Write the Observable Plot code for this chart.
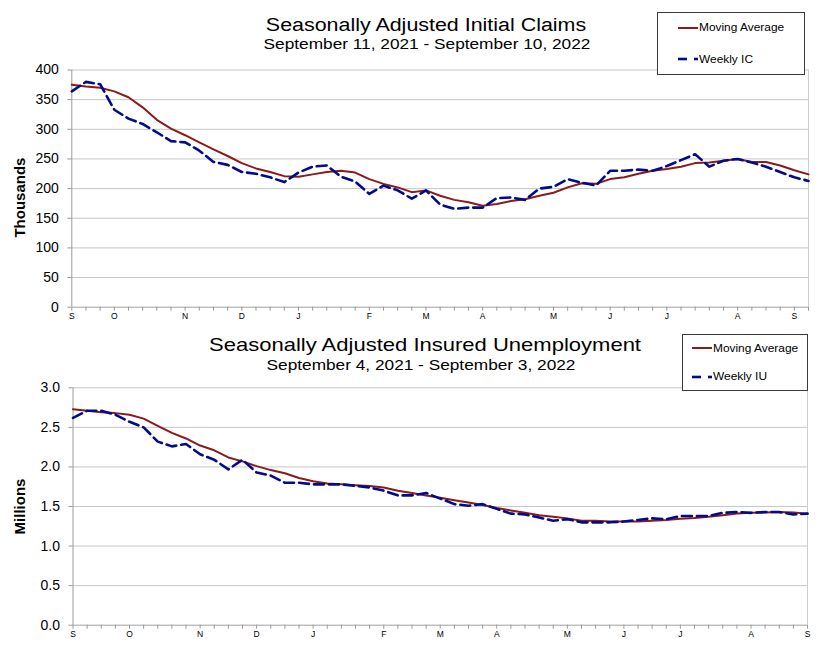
<!DOCTYPE html>
<html>
<head>
<meta charset="utf-8">
<script src="https://cdn.jsdelivr.net/npm/d3@7"></script>
<script src="https://cdn.jsdelivr.net/npm/@observablehq/plot@0.6"></script>
<style>
  body { margin: 0; background: #fff; font-family: Arial, "Liberation Sans", sans-serif; }
  #root { position: relative; width: 825px; height: 670px; overflow: hidden; background: #fff; }
  #root svg { position: absolute; left: 0; }
  .t { position: absolute; white-space: nowrap; line-height: 1; color: #000; }
  .ctr { transform: translateX(-50%) scaleX(1.19); transform-origin: 50% 50%; }
  .lft { transform: scaleX(1.19); transform-origin: 0 50%; }
  .legend { position: absolute; border: 1px solid #3a3a3a; background: #fff; box-sizing: border-box; }
</style>
</head>
<body>
<div id="root"></div>
<script>
// ---------- Data ----------
const icStart = "2021-09-11"; // week ending dates, weekly
const icWeekly = [364, 380, 376, 333, 318, 309, 295, 280, 278, 264,
                  245, 240, 228, 225, 219, 211, 227, 237, 239, 220,
                  212, 191, 205, 197, 183, 197, 173, 166, 168, 168,
                  184, 185, 181, 200, 203, 216, 210, 205, 230, 230,
                  232, 230, 238, 248, 258, 237, 247, 250, 244, 237,
                  228, 219, 213];
const icMA = [375, 372, 370, 364, 354, 337, 316, 301, 290, 278,
              266, 255, 243, 234, 228, 221, 220, 224, 228, 230,
              227, 216, 208, 202, 194, 197, 188, 181, 177, 171,
              174, 179, 182, 188, 193, 202, 209, 208, 216, 219,
              225, 230, 233, 237, 243, 244, 247, 250, 245, 245,
              239, 231, 224];

const iuStart = "2021-09-04";
const iuWeekly = [2.62, 2.71, 2.71, 2.66, 2.57, 2.50, 2.32, 2.26, 2.29, 2.16,
                  2.09, 1.97, 2.09, 1.93, 1.89, 1.80, 1.80, 1.78, 1.78, 1.78,
                  1.76, 1.74, 1.70, 1.64, 1.64, 1.67, 1.60, 1.53, 1.51, 1.53,
                  1.47, 1.41, 1.40, 1.36, 1.32, 1.34, 1.30, 1.30, 1.30, 1.31,
                  1.33, 1.35, 1.34, 1.38, 1.38, 1.38, 1.42, 1.43, 1.42, 1.43,
                  1.43, 1.40, 1.41];
const iuMA = [2.73, 2.71, 2.69, 2.68, 2.66, 2.61, 2.52, 2.43, 2.36, 2.27,
              2.21, 2.12, 2.07, 2.01, 1.96, 1.92, 1.86, 1.82, 1.79, 1.78,
              1.77, 1.76, 1.74, 1.70, 1.67, 1.64, 1.61, 1.58, 1.55, 1.52,
              1.48, 1.45, 1.42, 1.39, 1.37, 1.35, 1.32, 1.32, 1.31, 1.31,
              1.31, 1.32, 1.33, 1.345, 1.355, 1.37, 1.39, 1.41, 1.42, 1.425,
              1.43, 1.425, 1.41];

const icTicks = [0, 50, 100, 150, 200, 250, 300, 350, 400];
const iuTicks = [0, 0.5, 1.0, 1.5, 2.0, 2.5, 3.0];
const monthLetters = ["J", "F", "M", "A", "M", "J", "J", "A", "S", "O", "N", "D"];

const titles = {
  ic: "Seasonally Adjusted Initial Claims",
  icSub: "September 11, 2021 - September 10, 2022",
  iu: "Seasonally Adjusted Insured Unemployment",
  iuSub: "September 4, 2021 - September 3, 2022"
};

// ---------- Helpers ----------
const RED = "#8b1a1a";
const BLUE = "#000c8c";
const FONT = "Arial, 'Liberation Sans', sans-serif";

function weeklyDates(start, n) {
  const s = new Date(start + "T00:00:00Z");
  return d3.range(n).map(i => d3.utcDay.offset(s, 7 * i));
}

function makeChart(o) {
  const dates = weeklyDates(o.start, o.weekly.length);
  const rows = dates.map((d, i) => ({date: d, weekly: o.weekly[i], ma: o.ma[i]}));
  const labels = new Map(dates.map((d, i) =>
    [+d, (i === 0 || d.getUTCDate() <= 7) ? monthLetters[d.getUTCMonth()] : ""]));
  const last = dates[dates.length - 1];
  return Plot.plot({
    width: 825, height: o.height,
    marginTop: o.mt, marginBottom: o.mb, marginLeft: o.ml, marginRight: o.mr,
    style: {fontFamily: FONT, background: "transparent", overflow: "visible", color: "#000"},
    x: {type: "utc", domain: [dates[0], last]},
    y: {domain: [o.yTicks[0], o.yTicks[o.yTicks.length - 1]]},
    marks: [
      Plot.ruleY(o.yTicks.slice(1), {stroke: "#c6c6c6", strokeWidth: 1}),
      Plot.ruleX([last], {stroke: "#cdcdcd", strokeWidth: 1}),
      Plot.ruleY([o.yTicks[0]], {stroke: "#a0a0a0", strokeWidth: 1}),
      Plot.ruleX([dates[0]], {stroke: "#9a9a9a", strokeWidth: 1}),
      Plot.axisY({ticks: o.yTicks, tickFormat: o.yFormat, tickSize: 4, tickPadding: 9,
                  fontSize: 14, stroke: "#9a9a9a", label: null}),
      Plot.axisX({ticks: dates, tickFormat: d => labels.get(+d) ?? "", tickSize: 4, tickPadding: 2,
                  fontSize: 8.5, stroke: "#9a9a9a", label: null}),
      Plot.line(rows, {x: "date", y: "ma", stroke: RED, strokeWidth: 2}),
      Plot.line(rows, {x: "date", y: "weekly", stroke: BLUE, strokeWidth: 2.6, strokeDasharray: "10,5"}),
      Plot.text([o.yLabel], {text: d => d, frameAnchor: "left", textAnchor: "middle",
                             dx: -(o.ml - 20), dy: o.labelDy,
                             rotate: -90, fontSize: 15, fontWeight: "bold", fill: "#000"})
    ]
  });
}

function addText(root, txt, cls, left, topPx, size) {
  const el = document.createElement("div");
  el.className = "t " + cls;
  el.textContent = txt;
  el.style.left = left + "px";
  el.style.top = topPx + "px";
  el.style.fontSize = size + "px";
  root.appendChild(el);
  return el;
}

function swatch(root, left, topPx, color, width, dashed) {
  const ns = "http://www.w3.org/2000/svg";
  const s = document.createElementNS(ns, "svg");
  s.setAttribute("width", 22); s.setAttribute("height", 6);
  s.style.position = "absolute"; s.style.left = left + "px"; s.style.top = (topPx - 3) + "px";
  const segs = dashed ? [[0, 9], [16, 20]] : [[0, 20]];
  for (const [a, b] of segs) {
    const l = document.createElementNS(ns, "line");
    l.setAttribute("x1", a); l.setAttribute("x2", b); l.setAttribute("y1", 3); l.setAttribute("y2", 3);
    l.setAttribute("stroke", color); l.setAttribute("stroke-width", width);
    s.appendChild(l);
  }
  root.appendChild(s);
}

function legend(root, box, rows, sx, tx) {
  const b = document.createElement("div");
  b.className = "legend";
  Object.assign(b.style, {left: box[0] + "px", top: box[1] + "px", width: box[2] + "px", height: box[3] + "px"});
  root.appendChild(b);
  for (const r of rows) {
    swatch(root, sx, r.y, r.color, r.w, r.dashed);
    addText(root, r.label, "lft", tx, r.y - 4.5, 10);
  }
}

// ---------- Build ----------
const rootEl = document.getElementById("root");

const topChart = makeChart({start: icStart, weekly: icWeekly, ma: icMA, yTicks: icTicks,
  yFormat: d3.format("d"), yLabel: "Thousands", height: 330,
  mt: 69.5, mb: 23.3, ml: 71.3, mr: 17, labelDy: 9});
topChart.style.top = "0px";
rootEl.appendChild(topChart);

const botChart = makeChart({start: iuStart, weekly: iuWeekly, ma: iuMA, yTicks: iuTicks,
  yFormat: d3.format(".1f"), yLabel: "Millions", height: 340,
  mt: 57.3, mb: 45.3, ml: 72.5, mr: 18, labelDy: 0});
botChart.style.top = "330px";
rootEl.appendChild(botChart);

addText(rootEl, titles.ic, "ctr", 426, 16.3, 18);
addText(rootEl, titles.icSub, "ctr", 427, 37, 14.5);
addText(rootEl, titles.iu, "ctr", 425, 336, 18.5);
addText(rootEl, titles.iuSub, "ctr", 420.5, 357.5, 14.5);

legend(rootEl, [657, 12, 148, 63], [
  {label: "Moving Average", y: 27.7, color: RED, w: 2, dashed: false},
  {label: "Weekly IC", y: 59, color: BLUE, w: 2.6, dashed: true}
], 678, 699);

legend(rootEl, [682, 334, 126, 57], [
  {label: "Moving Average", y: 348, color: RED, w: 2, dashed: false},
  {label: "Weekly IU", y: 376.7, color: BLUE, w: 2.6, dashed: true}
], 692, 713);
</script>
</body>
</html>
